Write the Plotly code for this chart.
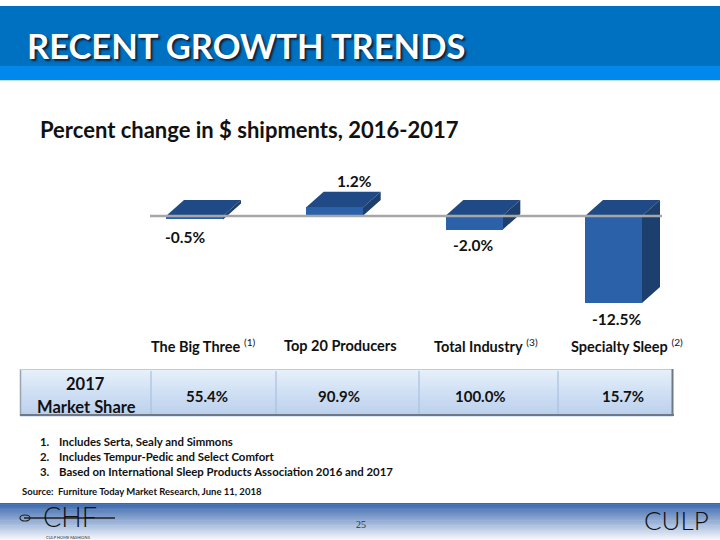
import plotly.graph_objects as go

# ---------------- data ----------------
categories = ["The Big Three", "Top 20 Producers", "Total Industry", "Specialty Sleep"]
category_refs = ["(1)", "", "(3)", "(2)"]
pct_change = [-0.5, 1.2, -2.0, -12.5]
market_share = [55.4, 90.9, 100.0, 15.7]
title_text = "RECENT GROWTH TRENDS"
subtitle_text = "Percent change in $ shipments, 2016-2017"
row_label = ["2017", "Market Share"]
footnotes = [
    "Includes Serta, Sealy and Simmons",
    "Includes Tempur-Pedic and Select Comfort",
    "Based on International Sleep Products Association 2016 and 2017",
]
source_text = "Source:  Furniture Today Market Research, June 11, 2018"
page_number = "25"

# ---------------- geometry / style ----------------
W, H = 720, 540
FONT = "Lato"


def PX(x):
    return x / W


def PY(y):
    return 1 - y / H


zero_py = 216.0
px_per_pct = 6.96
y_lo, y_hi = -15.0, 5.0
first_center = 194.5
step = 139.67
ydom = [PY(zero_py - y_lo * px_per_pct), PY(zero_py - y_hi * px_per_pct)]
xdom = [PX(first_center - step / 2), PX(first_center + 3.5 * step)]
bar_w = 57 / step
dx = 18 / step
dy = 16 / px_per_pct

FRONT = "#2B61A9"
TOP = "#1F4A85"
SIDE = "#1C3F6E"

label_shift = [(-9.5, -17.5), (20.5, 26.5), (-0.5, -15.0), (2.5, -16.0)]
cat_shift = [0.5, -3.0, 3.0, 4.5]

fig = go.Figure()
fig.add_trace(go.Bar(
    x=list(range(len(categories))), y=pct_change, width=bar_w,
    marker=dict(color=FRONT, line=dict(width=0)),
    hoverinfo="skip", showlegend=False,
))

shapes = []
annotations = []


def hexmix(c1, c2, t):
    a = [int(c1[i:i + 2], 16) for i in (1, 3, 5)]
    b = [int(c2[i:i + 2], 16) for i in (1, 3, 5)]
    return "#%02x%02x%02x" % tuple(round(a[k] + (b[k] - a[k]) * t) for k in range(3))


def rect(x0, y0, x1, y1, color, layer="below", line=None):
    shapes.append(dict(type="rect", xref="paper", yref="paper",
                       x0=PX(x0), x1=PX(x1), y0=PY(y1), y1=PY(y0),
                       fillcolor=color, line=line or dict(width=0), layer=layer))


def hline(x0, x1, y, color, width, layer="below"):
    shapes.append(dict(type="line", xref="paper", yref="paper",
                       x0=PX(x0), x1=PX(x1), y0=PY(y), y1=PY(y),
                       line=dict(color=color, width=width), layer=layer))


def vline(x, y0, y1, color, width, layer="below"):
    shapes.append(dict(type="line", xref="paper", yref="paper",
                       x0=PX(x), x1=PX(x), y0=PY(y0), y1=PY(y1),
                       line=dict(color=color, width=width), layer=layer))


def vgrad(x0, y0, x1, y1, c_top, c_bot, n=24):
    h = (y1 - y0) / n
    for k in range(n):
        rect(x0, y0 + k * h, x1, y0 + (k + 1) * h + 0.6, hexmix(c_top, c_bot, k / (n - 1)))


def text(x, y, s, size, color="#111111", bold=True, xanchor="left", family=FONT, weight=None):
    font = dict(family=family, size=size, color=color)
    if weight is not None:
        font["weight"] = weight
    annotations.append(dict(
        x=PX(x), y=PY(y), xref="paper", yref="paper", text=(f"<b>{s}</b>" if bold else s),
        showarrow=False, xanchor=xanchor, yanchor="middle", font=font))


# ---------------- header ----------------
rect(0, 6, 720, 66, "#0070C0")
rect(0, 66, 720, 80, "#0088EC")
hline(0, 720, 80.5, "#BFE0F8", 1)
annotations.append(dict(
    x=PX(25), y=PY(45), xref="paper", yref="paper", text="<b>" + title_text + "</b>",
    showarrow=False, xanchor="left", yanchor="middle",
    font=dict(family=FONT, size=34.5, color="white", shadow="2px 2px 2px #10203a"),
))

# ---------------- subtitle ----------------
text(38, 130, subtitle_text, 22)

# ---------------- 3D faces of bars ----------------
for i, v in enumerate(pct_change):
    x0, x1 = i - bar_w / 2, i + bar_w / 2
    yt = max(0.0, v)
    yb = min(0.0, v)
    shapes.append(dict(type="path", xref="x", yref="y", layer="below",
                       path=f"M {x0},{yt} L {x1},{yt} L {x1 + dx},{yt + dy} L {x0 + dx},{yt + dy} Z",
                       fillcolor=TOP, line=dict(width=0)))
    shapes.append(dict(type="path", xref="x", yref="y", layer="below",
                       path=f"M {x1},{yb} L {x1},{yt} L {x1 + dx},{yt + dy} L {x1 + dx},{yb + dy} Z",
                       fillcolor=SIDE, line=dict(width=0)))
    sx, sy = label_shift[i]
    annotations.append(dict(x=i, y=v, xref="x", yref="y", text=f"<b>{v:.1f}%</b>",
                            showarrow=False, xanchor="center", yanchor="middle",
                            xshift=sx, yshift=sy,
                            font=dict(family=FONT, size=15.5, color="#111111")))
    ref = f" <sup>{category_refs[i]}</sup>" if category_refs[i] else ""
    annotations.append(dict(x=i + dx / 2, y=PY(345), xref="x", yref="paper",
                            text=f"<b>{categories[i]}</b>{ref}",
                            showarrow=False, xanchor="center", yanchor="middle",
                            xshift=cat_shift[i],
                            font=dict(family=FONT, size=14.5, color="#111111")))

# zero line
shapes.append(dict(type="line", xref="paper", yref="y", x0=PX(150), x1=PX(662), y0=0, y1=0,
                   line=dict(color="#A6A6A6", width=2.5), layer="above"))

# ---------------- table ----------------
tx0, ty0, tx1, ty1 = 20, 369, 673, 416
vgrad(tx0, ty0, tx1, ty1, "#E6F0FB", "#B9CFEC")
vline(tx0 + 0.5, ty0, ty1, "#9AA3B2", 1.5)
hline(tx0, tx1, ty0 + 0.5, "#C3CAD5", 1)
hline(tx0, tx1 + 1, ty1 - 1, "#6F7886", 2)
vline(tx1 - 0.5, ty0, ty1, "#6F7886", 2)
for xd in [151, 276, 419, 558]:
    vline(xd, ty0 + 2, ty1 - 2, "#A9C0DF", 1.2)

text(85, 384, row_label[0], 16.5, xanchor="center")
text(86, 407, row_label[1], 16.5, xanchor="center")
cell_x = [207, 339, 481, 623]
for cx, m in zip(cell_x, market_share):
    text(cx, 396, f"{m:.1f}%", 15, xanchor="center")

# ---------------- footnotes ----------------
for k, note in enumerate(footnotes):
    text(38, 441 + 15 * k, f"{k + 1}.", 11.4)
    text(57, 441 + 15 * k, note, 11.4)
text(20, 491, source_text, 9.5)

# ---------------- footer ----------------
vgrad(0, 503, 720, 540, "#3A68AE", "#F4F7FC", n=30)
text(361, 524, page_number, 10, color="#333333", bold=False, xanchor="center", family="Liberation Serif")
text(676, 520, "CULP", 26, color="#111111", bold=False, xanchor="center", family="Lato", weight=300)
text(70, 516, "CHF", 27, color="#111111", bold=False, xanchor="center", family="Lato", weight=300)
hline(24, 115, 518, "#222222", 1.6, layer="above")
shapes.append(dict(type="circle", xref="paper", yref="paper", x0=PX(20), x1=PX(30), y0=PY(521), y1=PY(515),
                   line=dict(color="#222222", width=1.2), layer="above"))
text(68, 537, "CULP HOME FASHIONS", 4, color="#333333", bold=False, xanchor="center")

fig.update_layout(
    width=W, height=H, margin=dict(l=0, r=0, t=0, b=0),
    paper_bgcolor="white", plot_bgcolor="rgba(0,0,0,0)",
    showlegend=False, bargap=0,
    xaxis=dict(domain=xdom, range=[-0.5, 3.5], visible=False, fixedrange=True),
    yaxis=dict(domain=ydom, range=[y_lo, y_hi], visible=False, fixedrange=True),
    shapes=shapes, annotations=annotations,
)

fig.write_html("out.html")
